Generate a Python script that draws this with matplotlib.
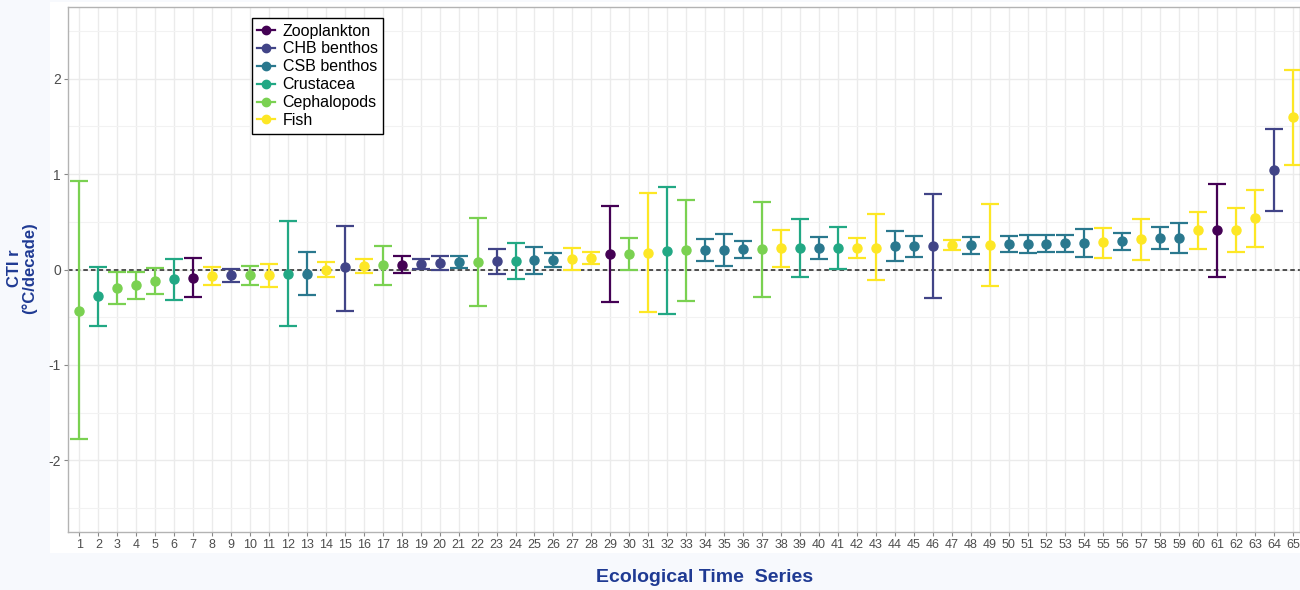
import matplotlib
matplotlib.use('Agg')
import matplotlib.pyplot as plt
from matplotlib.lines import Line2D
from matplotlib.patches import Rectangle

# Group names and viridis colours
groups = ['Zooplankton', 'CHB benthos', 'CSB benthos', 'Crustacea', 'Cephalopods', 'Fish']
colors = ['#440154', '#414487', '#2A788E', '#22A884', '#7AD151', '#FDE725']

series_id = list(range(1, 66))

group_of = ['Cephalopods', 'Crustacea', 'Cephalopods', 'Cephalopods', 'Cephalopods',
            'Crustacea', 'Zooplankton', 'Fish', 'CHB benthos', 'Cephalopods',
            'Fish', 'Crustacea', 'CSB benthos', 'Fish', 'CHB benthos',
            'Fish', 'Cephalopods', 'Zooplankton', 'CHB benthos', 'CHB benthos',
            'CSB benthos', 'Cephalopods', 'CHB benthos', 'Crustacea', 'CSB benthos',
            'CSB benthos', 'Fish', 'Fish', 'Zooplankton', 'Cephalopods',
            'Fish', 'Crustacea', 'Cephalopods', 'CSB benthos', 'CSB benthos',
            'CSB benthos', 'Cephalopods', 'Fish', 'Crustacea', 'CSB benthos',
            'Crustacea', 'Fish', 'Fish', 'CSB benthos', 'CSB benthos',
            'CHB benthos', 'Fish', 'CSB benthos', 'Fish', 'CSB benthos',
            'CSB benthos', 'CSB benthos', 'CSB benthos', 'CSB benthos', 'Fish',
            'CSB benthos', 'Fish', 'CSB benthos', 'CSB benthos', 'Fish',
            'Zooplankton', 'Fish', 'Fish', 'CHB benthos', 'Fish']

cti = [-0.43, -0.28, -0.19, -0.16, -0.12, -0.10, -0.09, -0.07, -0.06, -0.06,
       -0.06, -0.045, -0.045, 0.00, 0.025, 0.04, 0.045, 0.05, 0.06, 0.065,
       0.075, 0.075, 0.085, 0.09, 0.095, 0.10, 0.11, 0.12, 0.16, 0.16,
       0.175, 0.195, 0.20, 0.205, 0.205, 0.21, 0.215, 0.225, 0.225, 0.225,
       0.225, 0.23, 0.23, 0.245, 0.245, 0.245, 0.255, 0.26, 0.26, 0.27,
       0.27, 0.27, 0.275, 0.28, 0.285, 0.295, 0.315, 0.33, 0.33, 0.41,
       0.41, 0.41, 0.535, 1.04, 1.595]

upper = [0.925, 0.03, -0.03, -0.03, 0.02, 0.115, 0.12, 0.03, 0.01, 0.035,
         0.06, 0.51, 0.185, 0.08, 0.46, 0.115, 0.25, 0.14, 0.11, 0.145,
         0.14, 0.535, 0.215, 0.275, 0.235, 0.17, 0.225, 0.18, 0.67, 0.33,
         0.80, 0.86, 0.73, 0.32, 0.375, 0.30, 0.71, 0.415, 0.53, 0.34,
         0.45, 0.335, 0.585, 0.40, 0.355, 0.79, 0.305, 0.345, 0.685, 0.355,
         0.36, 0.36, 0.36, 0.425, 0.44, 0.38, 0.525, 0.445, 0.49, 0.60,
         0.90, 0.645, 0.835, 1.47, 2.09]

lower = [-1.78, -0.59, -0.36, -0.31, -0.26, -0.32, -0.29, -0.16, -0.13, -0.16,
         -0.18, -0.59, -0.27, -0.08, -0.43, -0.04, -0.16, -0.04, 0.01, -0.01,
         0.02, -0.385, -0.05, -0.10, -0.05, 0.03, 0.00, 0.055, -0.345, 0.00,
         -0.45, -0.47, -0.335, 0.09, 0.035, 0.125, -0.29, 0.03, -0.08, 0.115,
         0.005, 0.125, -0.115, 0.09, 0.135, -0.30, 0.20, 0.16, -0.175, 0.185,
         0.17, 0.18, 0.185, 0.13, 0.125, 0.205, 0.10, 0.21, 0.17, 0.22,
         -0.077, 0.18, 0.235, 0.61, 1.10]

W, H = 1300, 590
fig = plt.figure(figsize=(13, 5.9), dpi=100)
fig.patch.set_facecolor('#F7F9FD')
# white panel behind the plot
panel = Rectangle((50 / W, 1 - 553 / H), 1 - 50 / W, (553 - 2) / H,
                  transform=fig.transFigure, facecolor='white',
                  edgecolor='none', zorder=-10)
fig.add_artist(panel)

ax = fig.add_axes([68 / W, 1 - 532 / H, 1 - 68 / W, (532 - 7) / H])
ax.set_zorder(1)
ax.set_facecolor('white')

color_map = dict(zip(groups, colors))
for x, g, m, lo, hi in zip(series_id, group_of, cti, lower, upper):
    c = color_map[g]
    ax.errorbar(x, m, yerr=[[m - lo], [hi - m]], fmt='o', color=c, ecolor=c,
                markersize=6.5, elinewidth=1.6, capsize=6.2, capthick=1.6, zorder=3)

ax.axhline(0, color='#222222', linestyle=(0, (3, 2)), linewidth=1.1, zorder=2)

ax.set_xlim(0.4, 65.37)
ax.set_ylim(-2.75, 2.75)
ax.set_xticks(series_id)
ax.set_xticklabels([str(i) for i in series_id], fontsize=9, color='#4D4D4D',
                   family=['Liberation Sans', 'DejaVu Sans'])
ax.set_yticks([-2, -1, 0, 1, 2])
ax.set_yticklabels(['-2', '-1', '0', '1', '2'], fontsize=10, color='#4D4D4D',
                   family=['Liberation Sans', 'DejaVu Sans'])
ax.set_yticks([-2.5, -1.5, -0.5, 0.5, 1.5, 2.5], minor=True)
ax.tick_params(axis='both', which='major', length=3, width=0.8, color='#888888', pad=2)
ax.tick_params(axis='y', which='minor', length=0)

ax.grid(True, which='major', color='#EBEBEB', linewidth=1.0)
ax.grid(True, which='minor', axis='y', color='#F2F2F2', linewidth=0.8)
ax.set_axisbelow(True)
for s in ax.spines.values():
    s.set_color('#B3B3B3')
    s.set_linewidth(1.0)

label_color = '#1F3A93'
fig.text(705 / W, 1 - 578 / H, 'Ecological Time  Series', ha='center', va='center',
         fontsize=14, fontweight='bold', color=label_color,
         family=['Liberation Sans', 'DejaVu Sans'])
fig.text(22 / W, 1 - 268 / H, 'CTI r\n(°C/decade)', ha='center', va='center',
         rotation=90, fontsize=12, fontweight='bold', color=label_color,
         family=['Liberation Sans', 'DejaVu Sans'], linespacing=1.0)

handles = [Line2D([0], [0], color=c, marker='o', markersize=6, linewidth=1.6)
           for c in colors]
leg = ax.legend(handles, groups, loc='upper left', bbox_to_anchor=(0.149, 0.979),
                borderaxespad=0, frameon=True, fancybox=False, handlelength=1.1,
                handletextpad=0.5, labelspacing=0.18, borderpad=0.35,
                prop={'family': ['Liberation Sans', 'DejaVu Sans'], 'size': 11.5})
leg.get_frame().set_edgecolor('black')
leg.get_frame().set_linewidth(1.0)
leg.get_frame().set_alpha(1)

fig.savefig('out.png', dpi=100, facecolor=fig.get_facecolor())
